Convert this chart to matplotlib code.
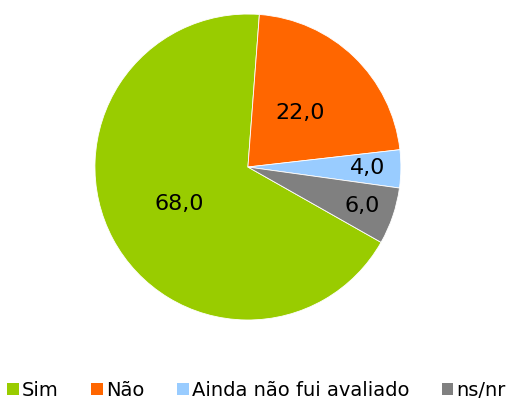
import numpy as np
import matplotlib
matplotlib.use("Agg")
import matplotlib.pyplot as plt
from matplotlib.patches import Patch

labels = ["Sim", "Não", "Ainda não fui avaliado", "ns/nr"]
values = [68.0, 22.0, 4.0, 6.0]
colors = ["#99CC00", "#FF6600", "#99CCFF", "#808080"]
# radial position of each value label (fraction of radius), as placed in the original
label_r = [0.51, 0.49, 0.785, 0.79]

plt.rcParams["font.family"] = ["DejaVu Sans"]

fig = plt.figure(figsize=(5.07, 4.01), dpi=100)
ax = fig.add_axes([0.489 - 0.3018, 0.5835 - 0.3815, 0.6036, 0.763])

wedges, _ = ax.pie(values, colors=colors, startangle=-29.5, counterclock=False,
                   wedgeprops=dict(edgecolor="white", linewidth=0.6))
ax.set_xlim(-1, 1)
ax.set_ylim(-1, 1)
ax.set_aspect("equal")

for w, v, r in zip(wedges, values, label_r):
    mid = np.deg2rad((w.theta1 + w.theta2) / 2)
    ax.text(r * np.cos(mid), r * np.sin(mid), f"{v:.1f}".replace(".", ","),
            ha="center", va="center", fontsize=16, color="black")

handles = [Patch(facecolor=c, edgecolor="none") for c in colors]
fig.legend(handles, labels, loc="center", bbox_to_anchor=(0.506, 0.027), ncol=4,
           frameon=False, fontsize=14, handlelength=0.6, handleheight=0.6,
           handletextpad=0.15, columnspacing=1.68, borderaxespad=0,
           borderpad=0)

fig.savefig("out.png", dpi=100)
